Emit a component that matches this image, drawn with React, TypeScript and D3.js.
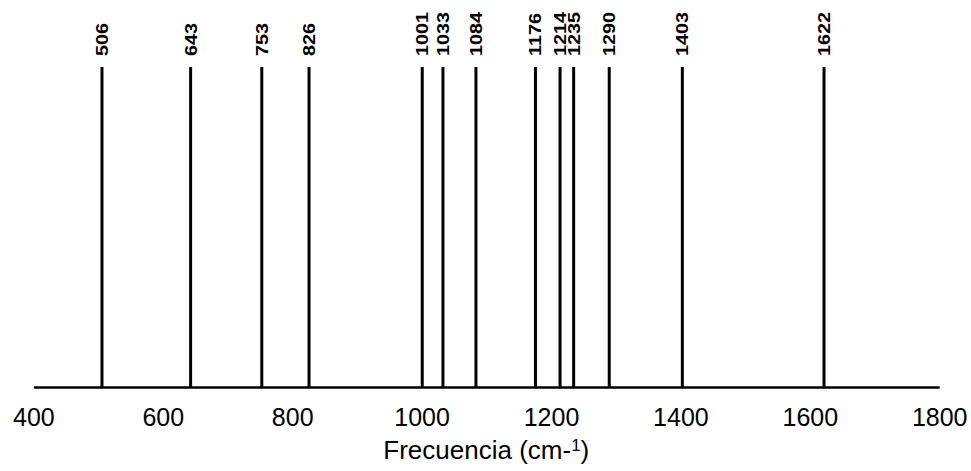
import React, { useEffect, useRef } from 'react'
import * as d3 from 'd3'

// peak positions (cm-1)
const peaks = [506, 643, 753, 826, 1001, 1033, 1084, 1176, 1214, 1235, 1290, 1403, 1622]
const xTicks = [400, 600, 800, 1000, 1200, 1400, 1600, 1800]
const xDomain = [400, 1800]

const App: React.FC = () => {
  const svgRef = useRef<SVGSVGElement>(null)

  useEffect(() => {
    if (!svgRef.current) return
    const width = 971
    const height = 471
    const font = "'Liberation Sans', Arial, sans-serif"

    const xScale = d3.scaleLinear().domain(xDomain).range([33.4, 939.2])
    const axisY = 387
    const lineTop = 67

    const svg = d3.select(svgRef.current)
    svg.selectAll('*').remove()
    svg.attr('width', width).attr('height', height)

    // peak lines
    svg
      .append('g')
      .selectAll('line')
      .data(peaks)
      .join('line')
      .attr('x1', (d) => xScale(d))
      .attr('x2', (d) => xScale(d))
      .attr('y1', lineTop)
      .attr('y2', axisY + 1)
      .attr('stroke', '#000')
      .attr('stroke-width', 3)

    // peak labels (a bit stretched along the reading direction, like the source)
    svg
      .append('g')
      .selectAll('text')
      .data(peaks)
      .join('text')
      .attr('transform', (d) => `translate(${xScale(d)},${lineTop - 11}) rotate(-90) scale(1.2,1)`)
      .attr('dy', '0.36em')
      .attr('text-anchor', 'start')
      .attr('font-family', font)
      .attr('font-weight', 'bold')
      .attr('font-size', 16.5)
      .attr('fill', '#000')
      .text((d) => String(d))

    // x axis
    const axis = svg
      .append('g')
      .attr('transform', `translate(0,${axisY})`)
      .call(
        d3
          .axisBottom(xScale)
          .tickValues(xTicks)
          .tickSize(0)
          .tickPadding(21)
          .tickFormat((d) => String(d)),
      )
    axis.select('.domain').attr('stroke', '#000').attr('stroke-width', 2.5)
    axis
      .selectAll('.tick text')
      .attr('font-family', font)
      .attr('font-size', 25)
      .attr('fill', '#000')

    // axis title
    const title = svg
      .append('text')
      .attr('x', xScale(1100))
      .attr('y', 459)
      .attr('text-anchor', 'middle')
      .attr('font-family', font)
      .attr('font-size', 26)
      .attr('fill', '#000')
    title.append('tspan').text('Frecuencia (cm-')
    title.append('tspan').attr('font-size', 17).attr('dy', -8).text('1')
    title.append('tspan').attr('dy', 8).text(')')
  }, [])

  return (
    <div style={{ position: 'absolute', left: 0, top: 0 }}>
      <svg ref={svgRef} style={{ display: 'block', background: '#fff' }}></svg>
    </div>
  )
}

export default App
